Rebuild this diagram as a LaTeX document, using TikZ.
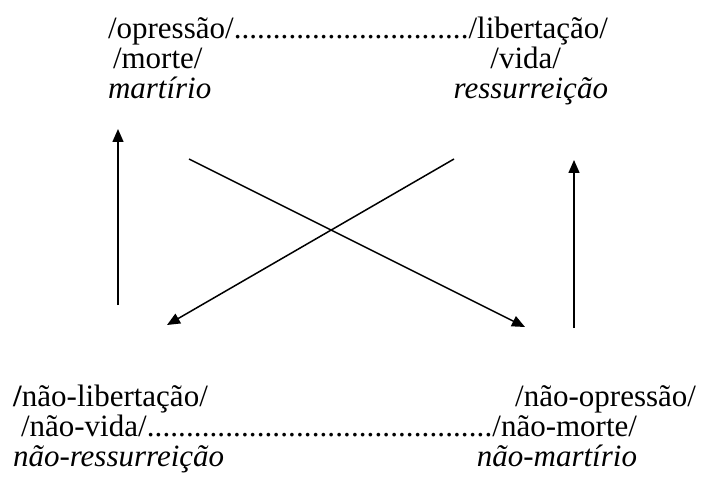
\documentclass[tikz,border=0pt]{standalone}
\usepackage{fontspec}
\setmainfont{Liberation Serif}
\usepackage{tikz}
\usetikzlibrary{arrows.meta, positioning}
\newcommand{\pontos}{\xleaders\hbox{.}\hfill}

\begin{document}
\begin{tikzpicture}[x=1pt, y=-1pt, >={Triangle[length=13pt, width=11pt]},
    font=\fontsize{31}{30}\selectfont,
    termo/.style={anchor=base west, inner sep=0pt, outer sep=0pt},
    termod/.style={anchor=base east, inner sep=0pt, outer sep=0pt},
    seta/.style={->, line width=1.5pt}]
    \useasboundingbox (0,0) rectangle (701,481);

    % termos de cima
    \node[termo] (l1) at (108,39) {\makebox[500pt][s]{/opressão/\pontos/libertação/}};
    \node[termo] (mor) at (113,69) {/morte/};
    \node[termod] (vid) at (561,69) {/vida/};
    \node[termo] (mar) at (108,99) {\itshape martírio};
    \node[termod] (res) at (608,99) {\itshape ressurreição};

    % termos de baixo
    \node[termo] (nlib) at (13,406) {\textbf{/}não-libertação/};
    \node[termod] (nop) at (696,406) {/não-opressão/};
    \node[termo] (l2) at (21,436) {\makebox[616pt][s]{/não-vida/\pontos/não-morte/}};
    \node[termo] (nres) at (13,466) {\itshape não-ressurreição};
    \node[termod] (nmar) at (637,466) {\itshape não-martírio};

    % pontas das setas
    \coordinate (ea) at (118,305);
    \coordinate (sa) at (118,129);
    \coordinate (ec) at (189,159);
    \coordinate (sc) at (525,327);
    \coordinate (ed) at (454,159);
    \coordinate (sd) at (167,325);
    \coordinate (eb) at (574,328);
    \coordinate (sb) at (574,160);

    \draw[seta] (ea) -- (sa);
    \draw[seta] (ec) -- (sc);
    \draw[seta] (ed) -- (sd);
    \draw[seta] (eb) -- (sb);
\end{tikzpicture}
\end{document}
